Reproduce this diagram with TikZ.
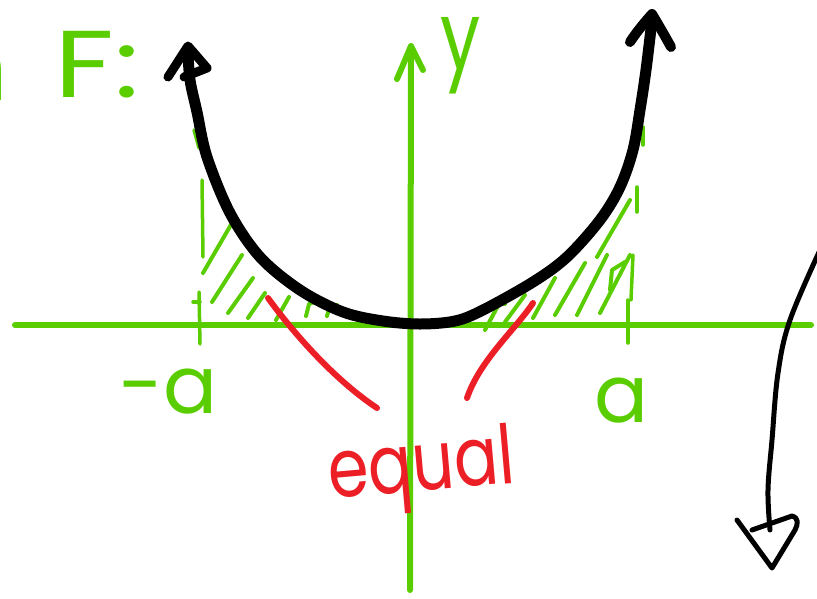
\documentclass[tikz,border=0pt]{standalone}
\usepackage{fontspec}
\setmainfont{Poppins}
\definecolor{lgreen}{RGB}{90,205,0}
\definecolor{lred}{RGB}{236,30,38}
\begin{document}
\begin{tikzpicture}[x=1pt,y=-1pt,line cap=round,line join=round,
  axis/.style={draw=lgreen,line width=6pt},
  hatch/.style={draw=lgreen,line width=4pt},
  guide/.style={draw=lgreen,line width=3.5pt},
  curve/.style={draw=black,line width=11pt},
  thinarrow/.style={draw=black,line width=5pt},
  redline/.style={draw=lred,line width=6pt},
  glbl/.style={inner sep=0pt,text=lgreen},
  rlbl/.style={inner sep=0pt,text=lred}]
\useasboundingbox (0,0) rectangle (817,598);
% axes
\coordinate (xl) at (15,325); \coordinate (xr) at (811,325);
\coordinate (yb) at (410,590); \coordinate (yt) at (411,46);
\coordinate (yal) at (397,79); \coordinate (yar) at (423,70);
\draw[axis] (xl) -- (xr);
\draw[axis] (yb) -- (yt);
\draw[axis] (yal) -- (yt) -- (yar);
% ticks
\draw[guide] (199,292) -- (200,344);
\draw[guide] (193,302) -- (200,302);
\draw[guide] (628,300) -- (628,343);
% dashed guide lines
\draw[guide] (194,130) -- (199,148);
\draw[guide] (202,180) -- (203,257);
\draw[guide] (643,127) -- (643,145);
\draw[guide] (637,187) -- (637,212);
\draw[guide] (633,255) -- (631,300);
% hatching left
\draw[hatch] (203,273) -- (232,223);
\draw[hatch] (212,302) -- (242,255);
\draw[hatch] (228,313) -- (253,278);
\draw[hatch] (248,318) -- (265,293);
\draw[hatch] (276,320) -- (289,297);
\draw[hatch] (306,316) -- (309,304) -- (317,301);
\draw[hatch] (327,316) -- (330,306) -- (337,305);
% hatching right
\draw[hatch] (485,330) -- (500,302) -- (505,304);
\draw[hatch] (505,322) -- (525,295);
\draw[hatch] (533,318) -- (555,278);
\draw[hatch] (555,315) -- (585,263);
\draw[hatch] (577,315) -- (607,255);
\draw[hatch] (600,313) -- (630,255);
\draw[hatch] (597,257) -- (630,200);
\draw[hatch] (610,290) -- (612,270) -- (625,262);
% main curve
\coordinate (lt) at (188,46);
\coordinate (rt) at (652,14);
\draw[curve] plot[smooth,tension=0.55] coordinates {(188,52) (190,80) (197,112) (207,157) (230,213) (260,257) (300,290) (343,312) (383,321) (420,324) (455,321) (483,310) (533,282) (567,257) (600,220) (620,187) (633,150) (640,110) (646,70) (652,20)};
\draw[black,line width=9pt] (168,77) -- (lt) -- (207,68) -- (184,77);
\draw[black,line width=10pt] (630,42) .. controls (638,30) and (645,22) .. (rt) .. controls (658,24) and (665,36) .. (671,47);
% red lines
\coordinate (rl1) at (268,298); \coordinate (rl2) at (377,408);
\coordinate (rr1) at (533,303); \coordinate (rr2) at (467,398);
\draw[redline] (rl1) .. controls (295,335) and (335,380) .. (rl2);
\draw[redline] (rr1) .. controls (515,330) and (480,360) .. (rr2);
% down arrow on the right
\coordinate (da1) at (820,250);
\coordinate (da2) at (770,530);
\draw[thinarrow] plot[smooth,tension=0.6] coordinates {(da1) (790,320) (778,373) (772,440) (768,490) (da2)};
\draw[thinarrow] (752,530) -- (792,516) .. controls (799,518) and (798,524) .. (795,530) -- (772,568) -- (737,520);
% labels
\node[glbl,anchor=base west,xscale=1.25,font=\fontsize{95}{100}\selectfont] (F) at (54,97) {F:};
\node[glbl,anchor=base east,font=\fontsize{95}{100}\selectfont] (n) at (9,100) {n};
\node[glbl,anchor=north west,xscale=0.75,font=\fontsize{95}{100}\selectfont] (ylab) at (440,17) {y};
\node[glbl,anchor=base east,font=\fontsize{80}{90}\selectfont] (ma) at (218,413) {-a};
\node[glbl,anchor=base east,font=\fontsize{80}{90}\selectfont] (pa) at (649,422) {a};
\node[rlbl,anchor=base west,rotate=5,xscale=0.8,font=\fontsize{82}{90}\selectfont] (eq) at (330,499) {equal};
\end{tikzpicture}
\end{document}
